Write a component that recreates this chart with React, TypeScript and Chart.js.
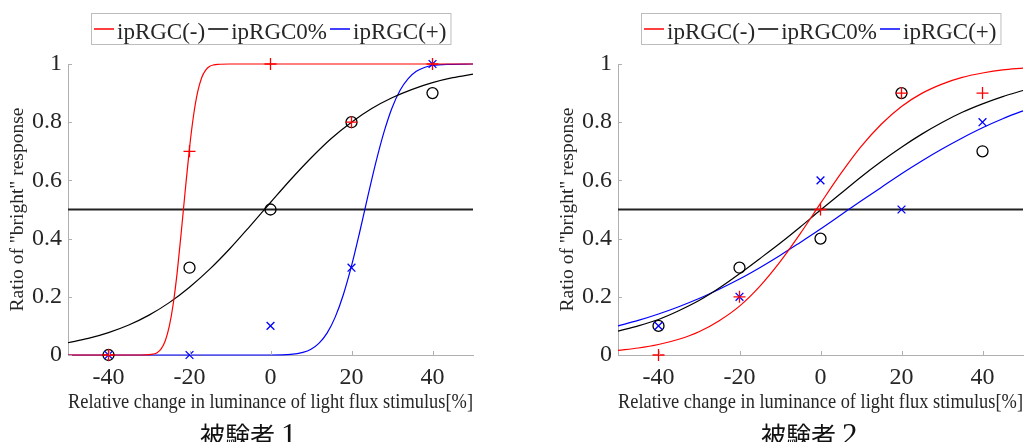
import React, { useEffect, useRef } from "react";
import { Chart, registerables } from "chart.js";

Chart.register(...registerables);

// ---------- data ----------
const xTickValues = [-40, -20, 0, 20, 40];
const xTickLabels = ["-40", "-20", "0", "20", "40"];
const yTickValues = [0, 0.2, 0.4, 0.6, 0.8, 1];
const yTickLabels = ["0", "0.2", "0.4", "0.6", "0.8", "1"];
const xLimits = [-50, 50];
const yLimits = [0, 1];
const seriesNames = ["ipRGC(-)", "ipRGC0%", "ipRGC(+)"];
const seriesColors = ["#ff0000", "#000000", "#0000ff"];
const xAxisTitle = "Relative change in luminance of light flux stimulus[%]";
const yAxisTitle = 'Ratio of "bright" response';
const captions = ["被験者 1", "被験者 2"];

const stimulus = [-40, -20, 0, 20, 40];
const thresholdX = [-50, 50];
const thresholdY = [0.5, 0.5];

// subject 1 observed ratios
const s1Minus = [0, 0.7, 1, 0.8, 1];
const s1Zero = [0, 0.3, 0.5, 0.8, 0.9];
const s1Plus = [0, 0, 0.1, 0.3, 1];
// subject 2 observed ratios
const s2Minus = [0, 0.2, 0.5, 0.9, 0.9];
const s2Zero = [0.1, 0.3, 0.4, 0.9, 0.7];
const s2Plus = [0.1, 0.2, 0.6, 0.5, 0.8];

// fitted curves
const fitX = [-50, -45, -40, -35, -30, -25, -20, -15, -10, -5, 0, 5, 10, 15, 20, 25, 30, 35, 40, 45, 50];

const s1MinusFitX = [-50, -35, -32, -30, -29, -28, -27, -26, -25, -24, -23, -22, -21, -20, -19, -18, -17, -16, -15, -14, -13, -10, 0, 50];
const s1MinusFit = [0, 0, 0, 0.001, 0.003, 0.008, 0.021, 0.048, 0.098, 0.177, 0.289, 0.427, 0.573, 0.711, 0.823, 0.903, 0.953, 0.979, 0.992, 0.997, 0.999, 1, 1, 1];
const s1ZeroFit = [0.042, 0.057, 0.077, 0.103, 0.137, 0.18, 0.233, 0.295, 0.366, 0.444, 0.524, 0.603, 0.677, 0.744, 0.8, 0.847, 0.884, 0.913, 0.936, 0.953, 0.965];
const s1PlusFitX = [-50, -10, 0, 5, 8, 10, 12, 14, 16, 18, 20, 22, 24, 26, 28, 30, 32, 34, 36, 38, 40, 44, 50];
const s1PlusFit = [0, 0, 0, 0.002, 0.009, 0.02, 0.041, 0.076, 0.131, 0.208, 0.306, 0.421, 0.543, 0.661, 0.765, 0.849, 0.91, 0.95, 0.975, 0.988, 0.995, 0.999, 1];

const s2MinusFit = [0.016, 0.024, 0.036, 0.054, 0.08, 0.118, 0.168, 0.236, 0.32, 0.417, 0.521, 0.623, 0.716, 0.793, 0.854, 0.899, 0.931, 0.954, 0.969, 0.98, 0.986];
const s2ZeroFit = [0.082, 0.1, 0.122, 0.152, 0.187, 0.23, 0.279, 0.331, 0.384, 0.44, 0.498, 0.555, 0.612, 0.665, 0.714, 0.759, 0.799, 0.834, 0.863, 0.888, 0.909];
const s2PlusFit = [0.1, 0.119, 0.141, 0.166, 0.194, 0.226, 0.261, 0.3, 0.342, 0.387, 0.433, 0.481, 0.529, 0.576, 0.623, 0.667, 0.708, 0.746, 0.781, 0.812, 0.839];

// ---------- styling ----------
const SERIF = '"Liberation Serif", "Times New Roman", serif';
const CJK_FONT = '25px "Noto Sans CJK JP", sans-serif';
const DIGIT_FONT = '31px "Liberation Serif", serif';
const TEXT_COLOR = "#262626";
const AXIS_COLOR = "#b0b0b0";

const zip = (xs: number[], ys: number[]) => xs.map((x, i) => ({ x, y: ys[i] }));

const decorPlugin = {
  id: "decor",
  afterDatasetsDraw(chart: any) {
    const { ctx, chartArea, scales } = chart;
    ctx.save();
    ctx.strokeStyle = AXIS_COLOR;
    ctx.lineWidth = 1;
    ctx.beginPath();
    for (const v of xTickValues) {
      const px = Math.round(scales.x.getPixelForValue(v)) + 0.5;
      ctx.moveTo(px, chartArea.bottom);
      ctx.lineTo(px, chartArea.bottom - 4);
    }
    for (const v of yTickValues) {
      const py = Math.round(scales.y.getPixelForValue(v)) + 0.5;
      ctx.moveTo(chartArea.left, py);
      ctx.lineTo(chartArea.left + 4, py);
    }
    ctx.stroke();
    ctx.restore();
  },
  afterDraw(chart: any, _args: any, opts: any) {
    const { ctx, chartArea } = chart;
    ctx.save();
    // legend
    ctx.font = "23px " + SERIF;
    const items = opts.items || [];
    const widths = items.map((it: any) => ctx.measureText(it.label).width);
    const lineLen = 20;
    let total = 3;
    widths.forEach((w: number, i: number) => {
      total += lineLen + 3 + w + (i < widths.length - 1 ? 3 : 0);
    });
    total += 4;
    const cx = (chartArea.left + chartArea.right) / 2;
    const boxLeft = Math.round(cx - total / 2);
    const boxTop = 13;
    const boxH = 31;
    ctx.fillStyle = "#ffffff";
    ctx.fillRect(boxLeft, boxTop, total, boxH);
    ctx.strokeStyle = "#bdbdbd";
    ctx.lineWidth = 1;
    ctx.strokeRect(boxLeft + 0.5, boxTop + 0.5, total, boxH);
    let x = boxLeft + 3;
    items.forEach((it: any, i: number) => {
      ctx.strokeStyle = it.color;
      ctx.lineWidth = 1.5;
      ctx.beginPath();
      ctx.moveTo(x, 29);
      ctx.lineTo(x + lineLen, 29);
      ctx.stroke();
      ctx.fillStyle = TEXT_COLOR;
      ctx.textAlign = "left";
      ctx.textBaseline = "alphabetic";
      ctx.fillText(it.label, x + lineLen + 3, 39);
      x += lineLen + 3 + widths[i] + 3;
    });
    // caption: Japanese part + serif numeral
    const parts = String(opts.caption).split(" ");
    ctx.fillStyle = "#111111";
    ctx.textAlign = "left";
    ctx.textBaseline = "alphabetic";
    ctx.font = CJK_FONT;
    ctx.fillText(parts[0], opts.captionLeft, 445);
    const w0 = ctx.measureText(parts[0]).width;
    if (parts[1]) {
      ctx.font = DIGIT_FONT;
      ctx.fillText(parts[1], opts.captionLeft + w0 + 6, 445);
    }
    ctx.restore();
  },
};

function curve(xs: number[], ys: number[], color: string) {
  return {
    type: "line",
    data: zip(xs, ys),
    borderColor: color,
    borderWidth: 1.2,
    pointRadius: 0,
    fill: false,
    cubicInterpolationMode: "monotone",
    clip: false,
  };
}

function markers(ys: number[], color: string, style: string, radius: number) {
  return {
    type: "line",
    data: zip(stimulus, ys),
    showLine: false,
    borderColor: color,
    backgroundColor: "rgba(0,0,0,0)",
    pointStyle: style,
    pointRadius: radius,
    pointBorderWidth: 1.3,
    pointBorderColor: color,
    pointBackgroundColor: "rgba(0,0,0,0)",
    clip: false,
  };
}

function makeConfig(subject: number): any {
  const minus = subject === 0 ? s1Minus : s2Minus;
  const zero = subject === 0 ? s1Zero : s2Zero;
  const plus = subject === 0 ? s1Plus : s2Plus;
  const datasets: any[] =
    subject === 0
      ? [
          markers(minus, seriesColors[0], "cross", 6),
          markers(plus, seriesColors[2], "crossRot", 5.5),
          markers(zero, seriesColors[1], "circle", 5.5),
          curve(s1MinusFitX, s1MinusFit, seriesColors[0]),
          curve(fitX, s1ZeroFit, seriesColors[1]),
          curve(s1PlusFitX, s1PlusFit, seriesColors[2]),
        ]
      : [
          markers(minus, seriesColors[0], "cross", 6),
          markers(plus, seriesColors[2], "crossRot", 5.5),
          markers(zero, seriesColors[1], "circle", 5.5),
          curve(fitX, s2MinusFit, seriesColors[0]),
          curve(fitX, s2ZeroFit, seriesColors[1]),
          curve(fitX, s2PlusFit, seriesColors[2]),
        ];
  datasets.push({
    type: "line",
    data: zip(thresholdX, thresholdY),
    borderColor: "#222222",
    borderWidth: 1.8,
    pointRadius: 0,
    fill: false,
    clip: false,
  });

  return {
    type: "line",
    data: { datasets },
    plugins: [decorPlugin],
    options: {
      animation: false,
      responsive: false,
      devicePixelRatio: 1,
      layout: { padding: { top: 64, right: 12, bottom: 0, left: 0 } },
      plugins: {
        legend: { display: false },
        tooltip: { enabled: false },
        title: { display: false },
        decor: {
          items: seriesNames.map((label, i) => ({ label, color: seriesColors[i] })),
          caption: captions[subject],
          captionLeft: subject === 0 ? 200 : 211,
        },
      },
      scales: {
        x: {
          type: "linear",
          min: xLimits[0],
          max: xLimits[1],
          grid: { display: false, drawTicks: false, tickLength: 0 },
          border: { display: true, color: AXIS_COLOR, width: 1 },
          afterBuildTicks: (scale: any) => {
            scale.ticks = xTickValues.map((v) => ({ value: v }));
          },
          afterFit: (scale: any) => {
            scale.height = 87;
          },
          ticks: {
            padding: 8.6,
            autoSkip: false,
            maxRotation: 0,
            color: TEXT_COLOR,
            font: { family: SERIF, size: 24 },
            callback: (_v: any, i: number) => xTickLabels[i],
          },
          title: {
            display: true,
            text: xAxisTitle,
            color: TEXT_COLOR,
            font: { family: SERIF, size: 20.6 },
            padding: { top: 0, bottom: 26.6 },
          },
        },
        y: {
          type: "linear",
          min: yLimits[0],
          max: yLimits[1],
          grid: { display: false, drawTicks: false, tickLength: 0 },
          border: { display: true, color: AXIS_COLOR, width: 1 },
          afterBuildTicks: (scale: any) => {
            scale.ticks = yTickValues.map((v) => ({ value: v }));
          },
          afterFit: (scale: any) => {
            scale.width = 68;
          },
          ticks: {
            padding: 6,
            autoSkip: false,
            color: TEXT_COLOR,
            font: { family: SERIF, size: 24 },
            callback: (_v: any, i: number) => yTickLabels[i],
          },
          title: {
            display: true,
            text: yAxisTitle,
            color: TEXT_COLOR,
            font: { family: SERIF, size: 19.5 },
            padding: { top: 6.3, bottom: 0 },
          },
        },
      },
    },
  };
}

function Panel({ subject, left }: { subject: number; left: number }) {
  const ref = useRef<HTMLCanvasElement | null>(null);
  useEffect(() => {
    if (!ref.current) return;
    const chart = new Chart(ref.current, makeConfig(subject));
    return () => chart.destroy();
  }, [subject]);
  return (
    <div style={{ position: "absolute", left, top: 0, width: 485, height: 442 }}>
      <canvas ref={ref} width={485} height={442} style={{ display: "block" }} />
    </div>
  );
}

export default function App() {
  return (
    <div style={{ position: "absolute", left: 0, top: 0, width: 1035, height: 442, background: "#ffffff", overflow: "hidden" }}>
      <Panel subject={0} left={0} />
      <Panel subject={1} left={550} />
    </div>
  );
}
